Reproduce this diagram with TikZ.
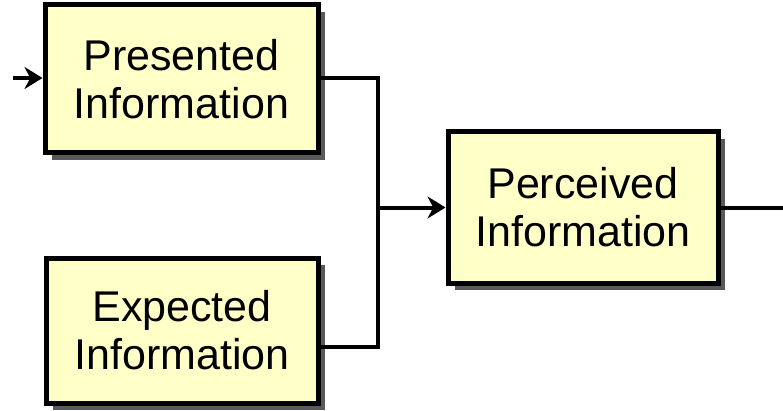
\documentclass[tikz,border=0pt]{standalone}
\usepackage{fontspec}
\setmainfont{Liberation Sans}
\usetikzlibrary{arrows.meta,shadows}

\tikzset{
    infobox/.style={draw, line width=5pt, fill={rgb,255:red,255;green,255;blue,200},
        align=center, inner sep=0pt,
        font=\fontsize{43}{48}\selectfont,
        drop shadow={shadow xshift=7pt, shadow yshift=-7pt, fill=black!65, opacity=1}},
    flow/.style={line width=4pt},
    flowarrow/.style={flow, -{Stealth[length=18pt, width=22pt]}}
}

\begin{document}
\begin{tikzpicture}[x=1pt, y=1pt]
    \useasboundingbox (0,0) rectangle (783,410);
    \fill [white] (0,0) rectangle (783,410);

    % the three blocks
    \node [infobox, minimum width=273pt, minimum height=148pt] (pres) at (181.5,331) {Presented\\Information};
    \node [infobox, minimum width=272pt, minimum height=145pt] (expt) at (182,79.5) {Expected\\Information};
    \node [infobox, minimum width=270pt, minimum height=151pt] (perc) at (583,202.5) {Perceived\\Information};

    \coordinate (in) at (13,332);
    \coordinate (join) at (378,202.5);
    \coordinate (out) at (783,202.5);
    \coordinate (expout) at ([yshift=-16pt]expt.east);

    % connectors
    \draw [flowarrow] (in) -- (in -| pres.west);
    \draw [flow] (pres.east |- in) -| (join);
    \draw [flow] (expout) -| (join);
    \draw [flowarrow] (join) -- (perc.west);
    \draw [flow] (perc.east) -- (out);
\end{tikzpicture}
\end{document}
